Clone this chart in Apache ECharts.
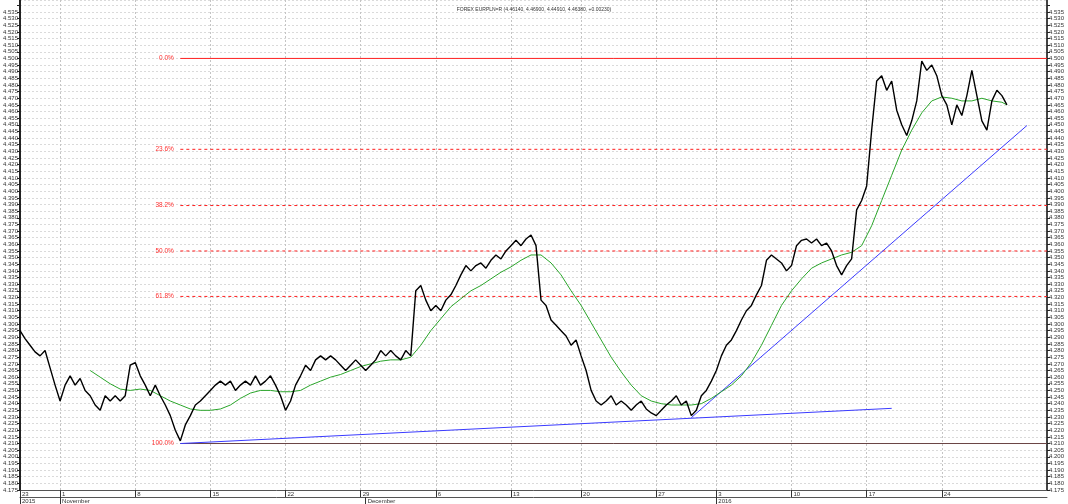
<!DOCTYPE html>
<html>
<head>
<meta charset="utf-8">
<script src="https://cdn.jsdelivr.net/npm/echarts@6/dist/echarts.min.js"></script>
<style>
  html, body { margin: 0; padding: 0; background: #fff; }
  #chart { width: 1068px; height: 504px; }
</style>
</head>
<body>
<div id="chart"></div>
<script>
// time slots (about a third of a trading day each)
const slotCount = 206;

// weekly ticks and the month row
const weekSlots = [0, 8, 23, 38, 53, 68, 83, 98, 112, 127, 139, 154, 169, 184];
const weekLabels = ['23', '1', '8', '15', '22', '29', '6', '13', '20', '27', '3', '10', '17', '24'];
const monthSlots = [0, 8, 69, 139];
const monthLabels = ['2015', 'November', 'December', '2016'];

// EUR/PLN close, one value per slot
const priceValues = [
  4.295, 4.289, 4.284, 4.279, 4.276, 4.280, 4.267, 4.254, 4.242, 4.254,
  4.261, 4.254, 4.259, 4.250, 4.246, 4.239, 4.235, 4.246, 4.242, 4.246,
  4.242, 4.246, 4.269, 4.271, 4.261, 4.254, 4.246, 4.254, 4.246, 4.239,
  4.231, 4.220, 4.212, 4.224, 4.231, 4.239, 4.242, 4.246, 4.250, 4.254,
  4.257, 4.254, 4.257, 4.250, 4.254, 4.257, 4.254, 4.261, 4.254, 4.257,
  4.261, 4.254, 4.246, 4.235, 4.242, 4.254, 4.261, 4.269, 4.265, 4.273,
  4.276, 4.273, 4.276, 4.273, 4.269, 4.265, 4.269, 4.273, 4.269, 4.265,
  4.269, 4.273, 4.280, 4.276, 4.280, 4.276, 4.273, 4.280, 4.276, 4.325,
  4.329, 4.318, 4.310, 4.314, 4.310, 4.318, 4.322, 4.329, 4.337, 4.344,
  4.340, 4.344, 4.346, 4.342, 4.348, 4.352, 4.349, 4.355, 4.359, 4.363,
  4.359, 4.364, 4.367, 4.359, 4.318, 4.314, 4.303, 4.299, 4.295, 4.291,
  4.284, 4.288, 4.276, 4.265, 4.250, 4.242, 4.239, 4.242, 4.246, 4.239,
  4.242, 4.239, 4.235, 4.239, 4.242, 4.236, 4.233, 4.231, 4.235, 4.239,
  4.242, 4.246, 4.239, 4.242, 4.231, 4.235, 4.246, 4.250, 4.257, 4.265,
  4.276, 4.284, 4.288, 4.295, 4.303, 4.310, 4.314, 4.322, 4.329, 4.348,
  4.352, 4.349, 4.346, 4.340, 4.344, 4.359, 4.363, 4.364, 4.361, 4.364,
  4.359, 4.361, 4.355, 4.344, 4.337, 4.344, 4.349, 4.386, 4.393, 4.404,
  4.446, 4.483, 4.487, 4.476, 4.483, 4.461, 4.450, 4.442, 4.453, 4.468,
  4.498, 4.491, 4.495, 4.487, 4.472, 4.465, 4.450, 4.465, 4.457, 4.472,
  4.491, 4.472, 4.453, 4.446, 4.468, 4.476, 4.472, 4.465
];

// moving average (green), sampled every other slot
const maSlots = [
  14, 16, 18, 20, 22, 24, 26, 28, 30, 32, 34, 36, 38, 40, 42, 44, 46, 48, 50, 52,
  54, 56, 58, 60, 62, 64, 66, 68, 70, 72, 74, 76, 78, 80, 82, 84, 86, 88, 90, 92,
  94, 96, 98, 100, 102, 104, 106, 108, 110, 112, 114, 116, 118, 120, 122, 124, 126, 128, 130, 132,
  134, 136, 138, 140, 142, 144, 146, 148, 150, 152, 154, 156, 158, 160, 162, 164, 166, 168, 170, 172,
  174, 176, 178, 180, 182, 184, 186, 188, 190, 192, 194, 196, 197
];
const maValues = [
  4.265, 4.260, 4.255, 4.251, 4.250, 4.251, 4.250, 4.246, 4.242, 4.239, 4.236, 4.235, 4.235, 4.236, 4.239, 4.244, 4.248, 4.250, 4.250, 4.249,
  4.249, 4.250, 4.254, 4.257, 4.260, 4.262, 4.265, 4.268, 4.270, 4.272, 4.273, 4.273, 4.275, 4.284, 4.295, 4.304, 4.313, 4.319, 4.325, 4.329,
  4.334, 4.339, 4.343, 4.348, 4.352, 4.352, 4.346, 4.337, 4.325, 4.314, 4.301, 4.288, 4.275, 4.264, 4.254, 4.246, 4.242, 4.240, 4.239, 4.239,
  4.239, 4.240, 4.244, 4.249, 4.254, 4.261, 4.271, 4.284, 4.299, 4.314, 4.325, 4.334, 4.342, 4.346, 4.349, 4.352, 4.354, 4.359, 4.374, 4.393,
  4.412, 4.431, 4.446, 4.459, 4.468, 4.471, 4.470, 4.468, 4.468, 4.470, 4.468, 4.467, 4.465
];

// trend lines (blue): [slot, price] end points
const supportLow = [[32, 4.2100], [174, 4.2365]];
const supportUp = [[134, 4.2295], [201, 4.4495]];

// fibonacci retracement between the low and the high
const fibHigh = 4.500;
const fibLow = 4.210;
const fibRatios = [0, 0.236, 0.382, 0.5, 0.618, 1];
const fibStartSlot = 32;

const titleText = 'FOREX EURPLN=R (4.46140, 4.46900, 4.44910, 4.46380, +0.00230)';

const font = 'Liberation Sans';
const slots = Array.from({ length: slotCount }, (_, i) => String(i));
const isWeek = i => weekSlots.includes(i);
const isMonth = i => monthSlots.includes(i);
const priceLabel = v => (v > 4.5375 ? '' : v.toFixed(3));

// one small line series per retracement level, label on its first point
const fibSeries = fibRatios.map(r => {
    const level = fibHigh - r * (fibHigh - fibLow);
    const solid = r === 0 || r === 1;
    return {
        name: 'fib ' + r,
        type: 'line',
        symbol: 'circle',
        symbolSize: 1,
        showSymbol: true,
        itemStyle: { color: 'rgba(255,255,255,0)', borderWidth: 0 },
        silent: true,
        z: 3,
        lineStyle: {
            color: r === 1 ? '#6a4444' : '#ff1f1f',
            type: solid ? 'solid' : [3, 3],
            width: 1
        },
        data: [
            {
                value: [fibStartSlot, level],
                label: {
                    show: true,
                    position: 'left',
                    distance: 6,
                    fontSize: 6.5,
                    color: '#ff3030',
                    fontFamily: font,
                    formatter: (r * 100).toFixed(1) + '%'
                }
            },
            [slotCount - 1, level]
        ]
    };
});

const chart = echarts.init(document.getElementById('chart'));

chart.setOption({
    animation: false,
    title: {
        text: titleText,
        left: 'center',
        top: 2,
        textStyle: { fontSize: 5, fontWeight: 'normal', color: '#333', fontFamily: font }
    },
    grid: { left: 20, right: 21, top: 0, bottom: 14 },
    xAxis: [
        {
            type: 'category',
            data: slots,
            boundaryGap: false,
            position: 'bottom',
            axisLine: { lineStyle: { color: '#555', width: 1 } },
            axisTick: { interval: isWeek, length: 7, lineStyle: { color: '#333', width: 1 } },
            axisLabel: {
                interval: isWeek,
                formatter: (v, i) => weekLabels[weekSlots.indexOf(Number(v))],
                align: 'left',
                margin: 1,
                padding: [0, 0, 0, 2],
                fontSize: 6,
                color: '#333',
                fontFamily: font
            },
            splitLine: { show: true, interval: isWeek, lineStyle: { color: '#c4c4c4', type: [2, 2], width: 1 } }
        },
        {
            type: 'category',
            data: slots,
            boundaryGap: false,
            position: 'bottom',
            offset: 7,
            axisLine: { lineStyle: { color: '#555', width: 1 } },
            axisTick: { interval: isMonth, length: 7, lineStyle: { color: '#333', width: 1 } },
            axisLabel: {
                interval: isMonth,
                formatter: (v, i) => monthLabels[monthSlots.indexOf(Number(v))],
                align: 'left',
                margin: 1,
                padding: [0, 0, 0, 2],
                fontSize: 6,
                color: '#333',
                fontFamily: font
            },
            splitLine: { show: false }
        }
    ],
    yAxis: [
        {
            type: 'value',
            position: 'left',
            min: 4.175,
            max: 4.544,
            interval: 0.005,
            axisLine: { show: true, lineStyle: { color: '#222', width: 2 } },
            axisTick: { show: true, length: 3, lineStyle: { color: '#222' } },
            axisLabel: {
                showMaxLabel: false,
                formatter: priceLabel,
                margin: 2,
                fontSize: 6,
                color: '#333',
                fontFamily: font
            },
            splitLine: { show: true, lineStyle: { color: '#dadada', type: [2, 2], width: 1 } }
        },
        {
            type: 'value',
            position: 'right',
            min: 4.175,
            max: 4.544,
            interval: 0.005,
            axisLine: { show: true, lineStyle: { color: '#444', width: 2 } },
            axisTick: { show: true, length: 3, lineStyle: { color: '#222' } },
            axisLabel: {
                showMaxLabel: false,
                formatter: priceLabel,
                margin: 2,
                fontSize: 6,
                color: '#333',
                fontFamily: font
            },
            splitLine: { show: false }
        }
    ],
    series: fibSeries.concat([
        {
            name: 'support',
            type: 'line',
            data: supportLow,
            symbol: 'none',
            z: 4,
            lineStyle: { color: '#3a3aff', width: 1 }
        },
        {
            name: 'support2',
            type: 'line',
            data: supportUp,
            symbol: 'none',
            z: 4,
            lineStyle: { color: '#3a3aff', width: 1 }
        },
        {
            name: 'MA',
            type: 'line',
            data: maSlots.map((s, i) => [s, maValues[i]]),
            symbol: 'none',
            z: 5,
            lineStyle: { color: '#2aa52a', width: 1 }
        },
        {
            name: 'EURPLN',
            type: 'line',
            data: priceValues,
            symbol: 'none',
            z: 6,
            lineStyle: { color: '#000', width: 1.4 }
        }
    ])
});
</script>
</body>
</html>
